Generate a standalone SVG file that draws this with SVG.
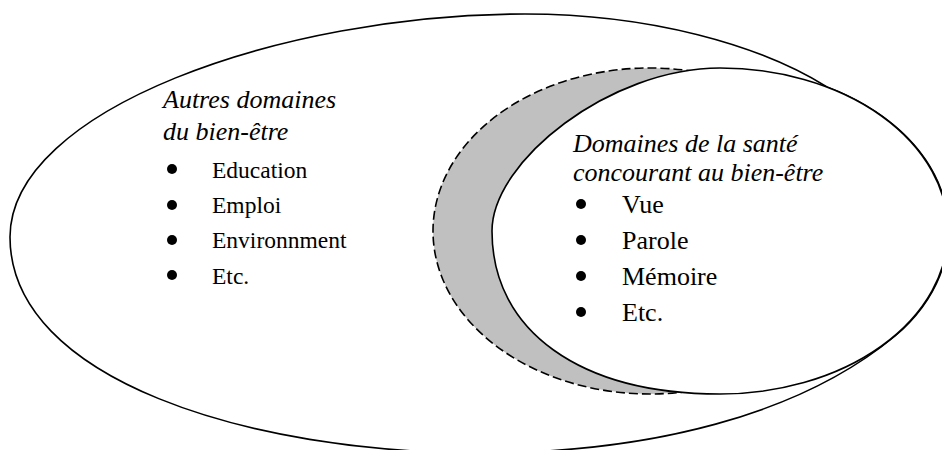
<svg xmlns="http://www.w3.org/2000/svg" width="942" height="450" viewBox="0 0 942 450">
<style>
.line{fill:none;stroke:#000;stroke-width:1.6}
.it{font-family:"Liberation Serif","Times New Roman",serif;font-style:italic;font-size:26px;fill:#000}
.li{font-family:"Liberation Serif","Times New Roman",serif;font-size:23.5px;fill:#000}
.lr{font-family:"Liberation Serif","Times New Roman",serif;font-size:26px;fill:#000}
.b{fill:#000}
</style>
<rect width="942" height="450" fill="#fff"/>
<g id="outer">
<path class="line" d="M10,237 C10,110 280,14 525,14 C650,14 760,45 827,87 A228,163 0 0 1 895,336 C800,415 650,453 480,453 C250,453 10,380 10,237 Z"/>
</g>
<g id="health-wellbeing-shaded">
<ellipse cx="650" cy="231" rx="217" ry="163" fill="#c0c0c0" stroke="#000" stroke-width="1.6" stroke-dasharray="9,4"/>
</g>
<g id="health-domains">
<path fill="#fff" stroke="#000" stroke-width="1.6" d="M720,68 C610,68 492,161 492,231 C492,331 580,394 720,394 A228,163 0 0 0 948,231 A228,163 0 0 0 720,68 Z"/>
</g>
<g id="other-domains-text">
<text class="it" x="163" y="108">Autres domaines</text>
<text class="it" x="163" y="140">du bien-être</text>
<circle class="b" cx="172" cy="169" r="5"/>
<text class="li" x="212" y="178">Education</text>
<circle class="b" cx="172" cy="205" r="5"/>
<text class="li" x="212" y="213">Emploi</text>
<circle class="b" cx="172" cy="240" r="5"/>
<text class="li" x="212" y="248">Environnment</text>
<circle class="b" cx="172" cy="275" r="5"/>
<text class="li" x="212" y="284">Etc.</text>
</g>
<g id="health-text">
<text class="it" x="573" y="152">Domaines de la santé</text>
<text class="it" x="573" y="181">concourant au bien-être</text>
<circle class="b" cx="581" cy="204" r="5"/>
<text class="lr" x="622" y="213">Vue</text>
<circle class="b" cx="581" cy="240" r="5"/>
<text class="lr" x="622" y="249">Parole</text>
<circle class="b" cx="581" cy="276" r="5"/>
<text class="lr" x="622" y="285">Mémoire</text>
<circle class="b" cx="581" cy="312" r="5"/>
<text class="lr" x="622" y="321">Etc.</text>
</g>
</svg>
